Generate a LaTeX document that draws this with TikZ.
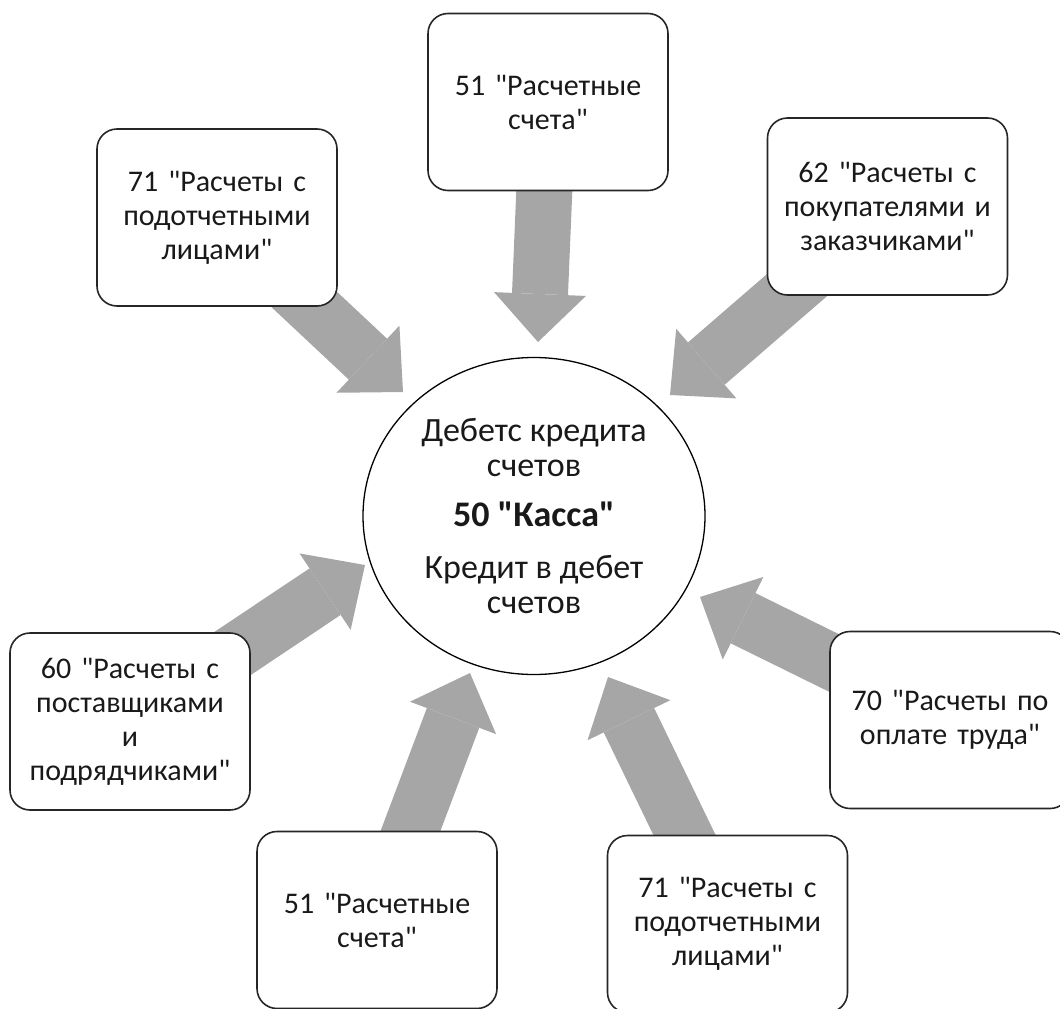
\documentclass[tikz,border=0pt]{standalone}
\usepackage{fontspec}
\setmainfont{Carlito}[Ligatures=TeXOff]
\usetikzlibrary{arrows.meta,shapes.geometric,backgrounds}
\definecolor{arrowgray}{HTML}{A6A6A6}

\begin{document}
\begin{tikzpicture}[x=1pt,y=-1pt,
    box/.style={draw=black!85,line width=1.6pt,rounded corners=20pt,fill=white,minimum width=240pt,minimum height=177pt,text width=232pt,align=center,inner sep=0pt,text=black!90,font=\fontsize{30}{34}\selectfont},
    fat/.style={arrowgray,line width=56pt,shorten <=-40pt,-{Triangle[length=48pt,width=92pt,line width=0pt]}}]
    \useasboundingbox (0,0) rectangle (1060,1009);
    \node[ellipse,draw,line width=1.3pt,minimum width=342pt,minimum height=317pt,inner sep=0pt,align=center,text=black!90,font=\fontsize{34}{35}\selectfont] (kassa) at (534,516) {Дебетс кредита\\ счетов\\[15pt] {\fontsize{36}{35}\selectfont\bfseries 50 "Касса"}\\[17pt] Кредит в дебет\\ счетов};
    \node[box] (s51a) at (548,102) {51 "Расчетные\\ счета"};
    \node[box] (s71a) at (217,217.5) {71 "Расчеты с\\ подотчетными\\ лицами"};
    \node[box] (s62) at (887.5,206.5) {62 "Расчеты с\\ покупателями и\\ заказчиками"};
    \node[box] (s60) at (130,721.5) {60 "Расчеты с\\ поставщиками\\ и\\ подрядчиками"};
    \node[box] (s70) at (950,720) {70 "Расчеты по\\ оплате труда"};
    \node[box] (s51b) at (377,920) {51 "Расчетные\\ счета"};
    \node[box] (s71b) at (727.5,924) {71 "Расчеты с\\ подотчетными\\ лицами"};
    \coordinate (t51a) at (538,342);
    \coordinate (t71a) at (403,392);
    \coordinate (t62) at (670,395);
    \coordinate (t60) at (365,565);
    \coordinate (t70) at (700,597);
    \coordinate (t51b) at (470,673);
    \coordinate (t71b) at (608,677);
    \begin{scope}[on background layer]
      \draw[fat] (s51a) -- (t51a);
      \draw[fat] (s71a) -- (t71a);
      \draw[fat] (s62) -- (t62);
      \draw[fat] (s60) -- (t60);
      \draw[fat] (s70) -- (t70);
      \draw[fat] (s51b) -- (t51b);
      \draw[fat] (s71b) -- (t71b);
    \end{scope}
\end{tikzpicture}
\end{document}
